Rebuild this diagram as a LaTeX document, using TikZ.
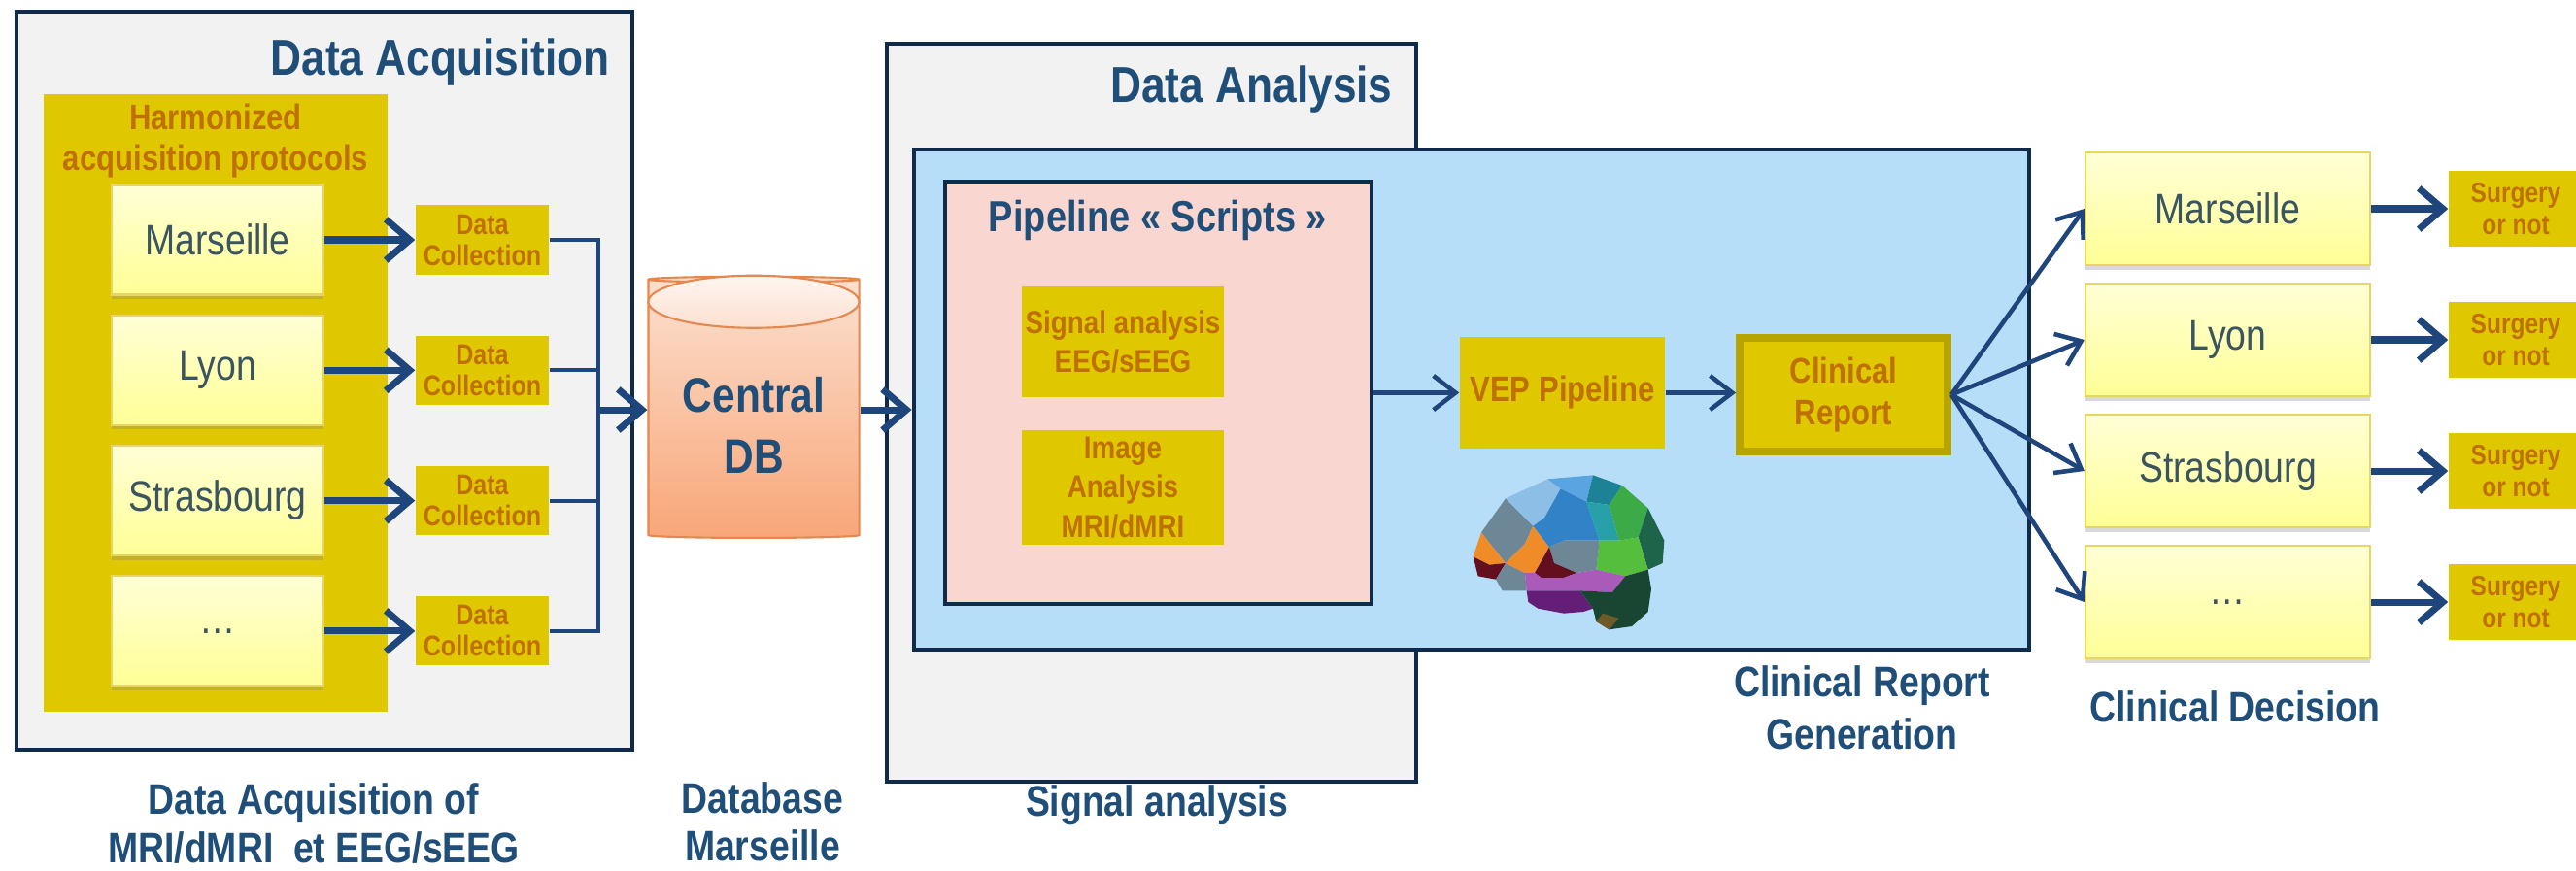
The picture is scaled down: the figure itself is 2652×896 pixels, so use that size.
\documentclass[tikz,border=0pt]{standalone}
\usepackage{fontspec}
\setmainfont{Liberation Sans}[FakeStretch=0.85]
\usetikzlibrary{arrows.meta,shapes.geometric,shadows}

\definecolor{navy}{RGB}{16,42,76}
\definecolor{titleblue}{RGB}{31,78,121}
\definecolor{arrowblue}{RGB}{30,70,125}
\definecolor{panelgray}{RGB}{242,242,242}
\definecolor{mustard}{RGB}{224,200,0}
\definecolor{olive}{RGB}{184,164,0}
\definecolor{rust}{RGB}{192,112,0}
\definecolor{slate}{RGB}{58,84,96}
\definecolor{skyblue}{RGB}{183,222,248}
\definecolor{blush}{RGB}{250,214,208}
\definecolor{cream}{RGB}{255,255,214}
\definecolor{lemon}{RGB}{255,255,150}
\definecolor{lemonline}{RGB}{232,214,100}
\definecolor{peach}{RGB}{252,224,208}
\definecolor{salmon}{RGB}{248,166,120}
\definecolor{salmonline}{RGB}{228,136,80}
% brain facets
\definecolor{brgray}{RGB}{110,135,150}
\definecolor{brorange}{RGB}{240,140,40}
\definecolor{brmaroon}{RGB}{100,15,30}
\definecolor{brsky}{RGB}{140,190,230}
\definecolor{brskymid}{RGB}{90,165,225}
\definecolor{brblue}{RGB}{50,130,200}
\definecolor{brteal}{RGB}{30,130,150}
\definecolor{brtealc}{RGB}{40,160,170}
\definecolor{brgreen}{RGB}{60,170,70}
\definecolor{brforest}{RGB}{30,100,75}
\definecolor{brlime}{RGB}{85,190,60}
\definecolor{brorchid}{RGB}{170,90,185}
\definecolor{brplum}{RGB}{100,30,120}
\definecolor{brpine}{RGB}{25,70,50}
\definecolor{brbrown}{RGB}{110,90,40}

\tikzset{
  panel/.style={draw=navy, line width=1.2pt, inner sep=0pt},
  heading/.style={text=titleblue, font=\bfseries\fontsize{14.8}{17}\selectfont},
  caption/.style={text=titleblue, align=center, font=\bfseries\fontsize{12.5}{14}\selectfont},
  site/.style={draw=lemonline, line width=0.6pt, top color=cream, bottom color=lemon,
    text=slate, minimum width=2.18cm, minimum height=1.13cm,
    font=\fontsize{12.5}{14}\selectfont,
    drop shadow={shadow xshift=0pt, shadow yshift=-1.3pt, opacity=0.3}},
  tag/.style={fill=mustard, text=rust, align=center, inner sep=0pt,
    font=\bfseries\fontsize{8.4}{9.1}\selectfont},
  feed/.style={draw=arrowblue, line width=2pt, -{Straight Barb[length=7pt,width=12pt]}},
  flow/.style={draw=arrowblue, line width=1.3pt, -{Straight Barb[length=6.5pt,width=10pt]}},
  bus/.style={draw=arrowblue, line width=1.2pt},
}

\begin{document}
\begin{tikzpicture}[x=0.01cm, y=-0.01cm]
\useasboundingbox (0,0) rectangle (2652,896);

% acquisition side
\node[panel, fill=panelgray, minimum width=6.34cm, minimum height=7.6cm] (acq) at (334,392) {};
\node[heading, anchor=base east] (acqtitle) at (640,77) {Data Acquisition};
\node[fill=mustard, minimum width=3.54cm, minimum height=6.36cm, inner sep=0pt] (proto) at (222,415) {};
\node[text=rust, align=center, font=\bfseries\fontsize{10.4}{12.2}\selectfont] (prototitle) at (222,145) {Harmonized\\acquisition protocols};
\coordinate (bus) at (616,422);
\foreach \city [count=\i] in {Marseille,Lyon,Strasbourg,\dots}{
  \pgfmathsetmacro\yy{247+134.3*(\i-1)}
  \node[site] (src\i) at (224,\yy) {\city};
  \node[tag, minimum width=1.37cm, minimum height=0.71cm] (col\i) at (496.5,\yy) {Data\\Collection};
  \draw[feed] (src\i) -- (col\i);
  \draw[bus] (col\i.east) -| (bus);
}

% central database
\node[cylinder, shape border rotate=90, aspect=0.25, minimum width=2.17cm, minimum height=2.69cm,
  draw=salmonline, line width=0.6pt, top color=peach, bottom color=salmon] (db) at (776,422) {};
\draw[salmonline, line width=0.6pt, top color=white!70!peach, bottom color=peach]
  ([yshift=-0.27cm]db.north) ellipse [x radius=1.085cm, y radius=0.27cm];
\node[text=titleblue, align=center, font=\bfseries\fontsize{14.2}{17.9}\selectfont] (dblabel) at (776,438) {Central\\DB};
\draw[feed] (bus) -- (db);

% analysis side
\node[panel, fill=panelgray, minimum width=5.45cm, minimum height=7.6cm] (ana) at (1185.5,425) {};
\node[heading, anchor=base east] (anatitle) at (1446,105) {Data Analysis};
\node[panel, fill=skyblue, minimum width=11.48cm, minimum height=5.15cm] (report) at (1515,411.5) {};
\node[panel, fill=blush, minimum width=4.39cm, minimum height=4.35cm] (scripts) at (1192.5,404.5) {};
\node[text=titleblue, anchor=base, font=\bfseries\fontsize{12.7}{14}\selectfont] (scriptstitle) at (1192,238) {Pipeline « Scripts »};
\draw[feed] (db.east) -- (db.east -| report.west);

\node[tag, minimum width=2.08cm, minimum height=1.13cm, font=\bfseries\fontsize{9.3}{11.4}\selectfont] (eeg) at (1156,352) {Signal analysis\\EEG/sEEG};
\node[tag, minimum width=2.08cm, minimum height=1.17cm, font=\bfseries\fontsize{9.3}{11.4}\selectfont] (mri) at (1156,502) {Image\\Analysis\\MRI/dMRI};
\node[tag, minimum width=2.11cm, minimum height=1.15cm, font=\bfseries\fontsize{10.4}{12}\selectfont] (vep) at (1608.5,404.5) {VEP Pipeline};
\node[tag, draw=olive, line width=2.2pt, minimum width=2.14cm, minimum height=1.17cm, font=\bfseries\fontsize{10.4}{12}\selectfont] (clin) at (1898,406.5) {Clinical\\Report};
\draw[flow] (scripts) -- (vep);
\draw[flow] (vep.east) -- (clin.west |- vep.east);

% low-poly brain
\begin{scope}[shift={(1500,480)}, scale=1/3]
  \fill[brgray] (75,205) -- (150,100) -- (235,185) -- (210,240) -- (150,300) -- cycle;
  \fill[brorange] (50,280) -- (75,205) -- (150,300) -- (100,305) -- cycle;
  \fill[brmaroon] (50,280) -- (100,305) -- (150,300) -- (120,350) -- (65,340) -- cycle;
  \fill[brgray] (120,350) -- (150,300) -- (210,330) -- (215,385) -- (140,385) -- cycle;
  \fill[brorange] (150,300) -- (210,240) -- (235,185) -- (285,250) -- (240,330) -- (210,330) -- cycle;
  \fill[brsky] (150,100) -- (280,40) -- (320,70) -- (270,160) -- (235,185) -- cycle;
  \fill[brskymid] (280,40) -- (420,28) -- (400,110) -- (320,70) -- cycle;
  \fill[brblue] (235,185) -- (270,160) -- (320,70) -- (400,110) -- (440,230) -- (330,230) -- (285,250) -- cycle;
  \fill[brteal] (420,28) -- (510,60) -- (470,120) -- (400,110) -- cycle;
  \fill[brtealc] (400,110) -- (470,120) -- (500,230) -- (440,230) -- cycle;
  \fill[brgreen] (510,60) -- (590,130) -- (560,220) -- (500,230) -- (470,120) -- cycle;
  \fill[brforest] (590,130) -- (640,230) -- (635,300) -- (590,320) -- (560,220) -- cycle;
  \fill[brlime] (440,230) -- (500,230) -- (560,220) -- (590,320) -- (520,340) -- (430,320) -- cycle;
  \fill[brgray] (285,250) -- (330,230) -- (440,230) -- (430,320) -- (370,330) -- (300,300) -- cycle;
  \fill[brmaroon] (240,330) -- (285,250) -- (300,300) -- (370,330) -- (330,345) -- (260,345) -- cycle;
  \fill[brorchid] (210,330) -- (240,330) -- (260,345) -- (330,345) -- (370,330) -- (430,320) -- (520,340)
    -- (480,390) -- (380,385) -- (290,385) -- (215,385) -- cycle;
  \fill[brplum] (215,385) -- (290,385) -- (380,385) -- (420,440) -- (390,450) -- (330,455) -- (250,440) -- (220,420) -- cycle;
  \fill[brpine] (380,385) -- (480,390) -- (520,340) -- (590,320) -- (600,380) -- (590,450) -- (540,495)
    -- (470,505) -- (430,480) -- (420,440) -- cycle;
  \fill[brbrown] (430,480) -- (470,505) -- (500,470) -- (450,455) -- cycle;
\end{scope}

% decision side
\foreach \city [count=\i] in {Marseille,Lyon,Strasbourg,\dots}{
  \pgfmathsetmacro\yy{215+135*(\i-1)}
  \node[site, minimum width=2.93cm, minimum height=1.16cm] (dec\i) at (2293.5,\yy) {\city};
  \node[tag, minimum width=1.38cm, minimum height=0.78cm, font=\bfseries\fontsize{8.2}{9.4}\selectfont] (surg\i) at (2590,\yy) {Surgery\\or not};
  \draw[flow] (clin.east) -- (dec\i.west);
  \draw[feed] (dec\i) -- (surg\i);
}

% captions
\node[caption] (acqcap) at (323,848) {Data Acquisition of\\MRI/dMRI\ \ et EEG/sEEG};
\node[caption] (dbcap) at (785,846) {Database\\Marseille};
\node[caption, anchor=base] (anacap) at (1191,840) {Signal analysis};
\node[caption, font=\bfseries\fontsize{12.5}{15.5}\selectfont] (repcap) at (1917,729) {Clinical Report\\Generation};
\node[caption, anchor=base] (deccap) at (2301,743) {Clinical Decision};
\end{tikzpicture}
\end{document}
